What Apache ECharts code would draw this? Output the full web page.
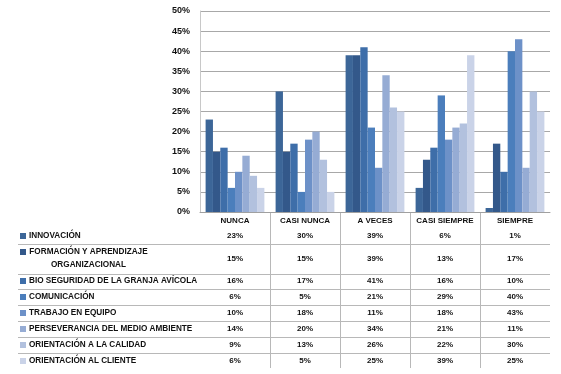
<!DOCTYPE html>
<html>
<head>
<meta charset="utf-8">
<script src="https://cdn.jsdelivr.net/npm/echarts@6/dist/echarts.min.js"></script>
<style>
html,body{margin:0;padding:0;background:#fff;}
#chart{width:561px;height:374px;}
</style>
</head>
<body>
<div id="chart"></div>
<script>
// ---- data ----
var categories = ['NUNCA', 'CASI NUNCA', 'A VECES', 'CASI SIEMPRE', 'SIEMPRE'];
var seriesNames = [
  'INNOVACIÓN',
  'FORMACIÓN Y APRENDIZAJE\nORGANIZACIONAL',
  'BIO SEGURIDAD DE LA GRANJA AVÍCOLA',
  'COMUNICACIÓN',
  'TRABAJO EN EQUIPO',
  'PERSEVERANCIA DEL MEDIO AMBIENTE',
  'ORIENTACIÓN A LA CALIDAD',
  'ORIENTACIÓN AL CLIENTE'
];
var innovacion     = [23, 30, 39, 6, 1];
var formacion      = [15, 15, 39, 13, 17];
var bioSeguridad   = [16, 17, 41, 16, 10];
var comunicacion   = [6, 5, 21, 29, 40];
var trabajoEquipo  = [10, 18, 11, 18, 43];
var perseverancia  = [14, 20, 34, 21, 11];
var calidad        = [9, 13, 26, 22, 30];
var cliente        = [6, 5, 25, 39, 25];
var seriesValues = [innovacion, formacion, bioSeguridad, comunicacion, trabajoEquipo, perseverancia, calidad, cliente];
var yTicks = [0, 5, 10, 15, 20, 25, 30, 35, 40, 45, 50];

// ---- style ----
var colors = ['#3c6698', '#33588a', '#3e6ea9', '#4b7ebc', '#6d91c8', '#96acd4', '#b2c1de', '#cad3e8'];
var FONT = "'Liberation Sans', Arial, sans-serif";
var rowY = [236, 258.5, 281, 297, 313, 329, 345, 361];   // table row text centres
var rowLines = [244, 274, 289, 305, 321, 337, 353];
var tableBottom = 368;

var chart = echarts.init(document.getElementById('chart'), null, {renderer: 'canvas'});

var series = seriesNames.map(function (n, i) {
  return {
    name: n,
    type: 'bar',
    data: seriesValues[i],
    barGap: '0%',
    barCategoryGap: '16%',
    itemStyle: {color: colors[i]},
    animation: false
  };
});

chart.setOption({
  animation: false,
  grid: {left: 200, right: 11, top: 11, bottom: 162, containLabel: false},
  xAxis: {
    type: 'category',
    data: categories,
    axisLine: {lineStyle: {color: '#a0a0a0'}},
    axisTick: {show: false},
    axisLabel: {interval: 0, margin: 5, fontSize: 8, fontWeight: 'bold', color: '#111', fontFamily: FONT}
  },
  yAxis: {
    type: 'value',
    min: yTicks[0],
    max: yTicks[yTicks.length - 1],
    interval: 5,
    axisLine: {show: true, lineStyle: {color: '#c8c8c8'}},
    axisTick: {show: false},
    splitLine: {lineStyle: {color: '#a8a8a8'}},
    axisLabel: {margin: 10, fontSize: 9, fontWeight: 'bold', color: '#111', fontFamily: FONT,
      formatter: '{value}%'}
  },
  series: series
});

// ---- data table under the chart ----
function buildTable() {
  var gridTop = chart.convertToPixel({yAxisIndex: 0}, yTicks[0]);
  var c0 = chart.convertToPixel({xAxisIndex: 0}, categories[0]);
  var c1 = chart.convertToPixel({xAxisIndex: 0}, categories[1]);
  var band = c1 - c0;
  var rightEdge = chart.convertToPixel({xAxisIndex: 0}, categories[categories.length - 1]) + band / 2;
  var els = [];
  var LBL = 8.2;
  for (var i = 1; i < categories.length; i++) {
    var x = Math.round(chart.convertToPixel({xAxisIndex: 0}, categories[i]) - band / 2) + 0.5;
    els.push({type: 'line', shape: {x1: x, y1: gridTop, x2: x, y2: tableBottom},
      style: {stroke: '#b8b8b8', lineWidth: 1}, silent: true});
  }
  rowLines.forEach(function (y) {
    els.push({type: 'line', shape: {x1: 18, y1: y + 0.5, x2: Math.round(rightEdge), y2: y + 0.5},
      style: {stroke: '#b8b8b8', lineWidth: 1}, silent: true});
  });
  seriesNames.forEach(function (n, r) {
    var y = rowY[r];
    var keyY = (n.indexOf('\n') >= 0) ? 252 : y;
    els.push({type: 'rect', shape: {x: 20, y: Math.round(keyY - 3), width: 6, height: 6},
      style: {fill: colors[r]}, silent: true});
    var parts = n.split('\n');
    if (parts.length === 1) {
      els.push({type: 'text', x: 29, y: y, silent: true,
        style: {text: n, fontSize: LBL, fontWeight: 'bold', fontFamily: FONT, fill: '#111',
          textAlign: 'left', textVerticalAlign: 'middle'}});
    } else {
      els.push({type: 'text', x: 88.5, y: 252, silent: true,
        style: {text: parts[0], fontSize: LBL, fontWeight: 'bold', fontFamily: FONT, fill: '#111',
          textAlign: 'center', textVerticalAlign: 'middle'}});
      els.push({type: 'text', x: 88.5, y: 265, silent: true,
        style: {text: parts[1], fontSize: LBL, fontWeight: 'bold', fontFamily: FONT, fill: '#111',
          textAlign: 'center', textVerticalAlign: 'middle'}});
    }
    seriesValues[r].forEach(function (v, c) {
      var cx = chart.convertToPixel({xAxisIndex: 0}, categories[c]);
      els.push({type: 'text', x: cx, y: y, silent: true,
        style: {text: v + '%', fontSize: 8, fontWeight: 'bold', fontFamily: FONT, fill: '#111',
          textAlign: 'center', textVerticalAlign: 'middle'}});
    });
  });
  chart.setOption({graphic: {elements: els}});
}
buildTable();
</script>
</body>
</html>
